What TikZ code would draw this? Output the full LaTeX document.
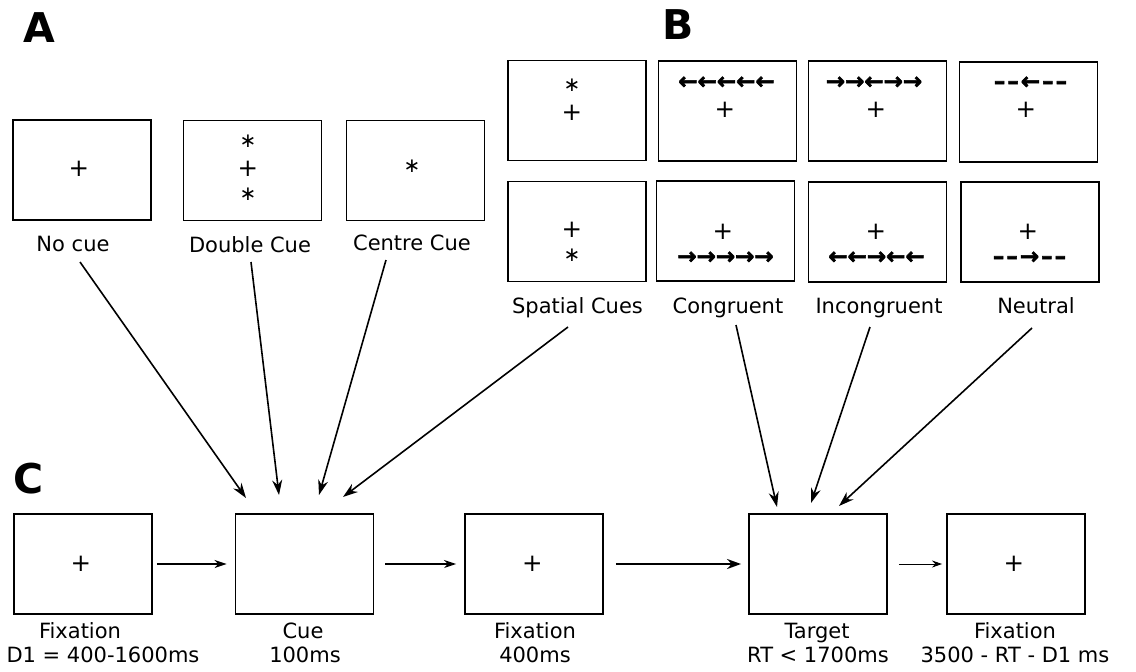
\documentclass[tikz,border=0pt]{standalone}
\usepackage{fontspec}
\setmainfont{DejaVu Sans}
\newfontfamily\flankfont[FakeBold=2.5]{DejaVu Sans Bold}
\usetikzlibrary{arrows.meta}
\begin{document}
\begin{tikzpicture}[x=1pt,y=-1pt,
 screen/.style={draw, line width=1.9pt, minimum width=138pt, minimum height=100pt, inner sep=0pt},
 lbl/.style={font=\fontsize{21}{25}\selectfont, inner sep=0pt, anchor=base},
 sym/.style={font=\fontsize{24.5}{25}\selectfont, inner sep=0pt, anchor=base},
 star/.style={font=\fontsize{20}{20}\selectfont, inner sep=0pt, anchor=base},
 flank/.style={font=\flankfont\fontsize{23}{23}\selectfont, inner sep=0pt, anchor=base},
 panel/.style={font=\bfseries\fontsize{41}{41}\selectfont, inner sep=0pt, anchor=base},
 link/.style={line width=1.6pt, -{Stealth[length=15pt,width=10pt]}},
 flow/.style={line width=1.4pt, -{Stealth[length=12pt,width=8pt]}},
]
\useasboundingbox (0,0) rectangle (1136,672);

% panel letters
\node[panel] (pA) at (39,42) {A};
\node[panel] (pB) at (678,39) {B};
\node[panel] (pC) at (28.5,493) {C};

% ---- panel A
\node[screen] (nocue) at (82,170) {};
\node[screen] (double) at (252.5,170.5) {};
\node[screen] (centre) at (415.5,170.5) {};
\node[sym] (nocue-p) at (79,176) {+};
\node[star] (double-a) at (248,147.6) {∗};
\node[sym] (double-p) at (248,176) {+};
\node[star] (double-b) at (248,200.6) {∗};
\node[star] (centre-a) at (412,172.6) {∗};
\node[lbl] (nocue-l) at (73,251) {No cue};
\node[lbl] (double-l) at (250,252) {Double Cue};
\node[lbl] (centre-l) at (412,250) {Centre Cue};

% ---- panel B
\node[screen] (sp1) at (577,110.5) {};
\node[screen] (sp2) at (577,231.5) {};
\node[screen] (co1) at (727.5,111) {};
\node[screen] (in1) at (877.5,111) {};
\node[screen] (ne1) at (1028.5,112) {};
\node[screen] (co2) at (725.5,231) {};
\node[screen] (in2) at (877.5,232) {};
\node[screen] (ne2) at (1030,232) {};

\node[star] (sp1-a) at (572,91.6) {∗};
\node[sym] (sp1-p) at (572,120) {+};
\node[sym] (sp2-p) at (572,237) {+};
\node[star] (sp2-a) at (572,261.6) {∗};

\node[flank] (co1-f) at (726.5,89) {←←←←←};
\node[sym] (co1-p) at (725,117) {+};
\node[flank] (in1-f) at (874,89) {→→←→→};
\node[sym] (in1-p) at (876,117) {+};
\node[flank] (ne1-f) at (1030.5,89) {–\kern2pt–\kern2pt←\kern2pt–\kern2pt–};
\node[sym] (ne1-p) at (1026,117) {+};

\node[sym] (co2-p) at (723,239) {+};
\node[flank] (co2-f) at (725.5,264) {→→→→→};
\node[sym] (in2-p) at (876,239) {+};
\node[flank] (in2-f) at (876.5,264) {←←→←←};
\node[sym] (ne2-p) at (1028,239) {+};
\node[flank] (ne2-f) at (1029.5,264) {–\kern2pt–\kern2pt→\kern2pt–\kern2pt–};

\node[lbl] (sp-l) at (577.5,313) {Spatial Cues};
\node[lbl] (co-l) at (728,313) {Congruent};
\node[lbl] (in-l) at (879,313) {Incongruent};
\node[lbl] (ne-l) at (1036,313) {Neutral};

% ---- panel C
\node[screen] (fix1) at (83,564) {};
\node[screen] (cue) at (304.5,564) {};
\node[screen] (fix2) at (534,564) {};
\node[screen] (target) at (818,564) {};
\node[screen] (fix3) at (1016,564) {};
\node[sym] (fix1-p) at (81,571) {+};
\node[sym] (fix2-p) at (532.5,571) {+};
\node[sym] (fix3-p) at (1014,571) {+};

\node[lbl] (fix1-l1) at (80,638) {Fixation};
\node[lbl] (fix1-l2) at (103,662) {D1 = 400-1600ms};
\node[lbl] (cue-l1) at (303,638) {Cue};
\node[lbl] (cue-l2) at (305,662) {100ms};
\node[lbl] (fix2-l1) at (535,638) {Fixation};
\node[lbl] (fix2-l2) at (535,662) {400ms};
\node[lbl] (target-l1) at (817,638) {Target};
\node[lbl] (target-l2) at (818,662) {RT < 1700ms};
\node[lbl] (fix3-l1) at (1015,638) {Fixation};
\node[lbl] (fix3-l2) at (1015,662) {3500 - RT - D1 ms};

% flow arrows
\draw[flow, shorten <=4pt, shorten >=8pt] (fix1) -- (cue);
\draw[flow, shorten <=11pt, shorten >=8pt] (cue) -- (fix2);
\draw[flow, line width=2.4pt, -{Stealth[length=14pt,width=10pt]}, shorten <=12pt, shorten >=7pt] (fix2) -- (target);
\draw[flow, line width=0.9pt, -{Stealth[length=10pt,width=7pt]}, shorten <=11pt, shorten >=4pt] (target) -- (fix3);

% converging arrows
\coordinate (nc-s) at (80,262);   \coordinate (nc-e) at (246,498);
\coordinate (dc-s) at (251,262);  \coordinate (dc-e) at (279,495);
\coordinate (cc-s) at (386,260);  \coordinate (cc-e) at (319,495);
\coordinate (sc-s) at (568,327);  \coordinate (sc-e) at (343,497);
\coordinate (co-s) at (736,325);  \coordinate (co-e) at (777,507);
\coordinate (in-s) at (870,327);  \coordinate (in-e) at (811,503);
\coordinate (ne-s) at (1032,328); \coordinate (ne-e) at (839,506);
\draw[link] (nc-s) -- (nc-e);
\draw[link] (dc-s) -- (dc-e);
\draw[link] (cc-s) -- (cc-e);
\draw[link] (sc-s) -- (sc-e);
\draw[link] (co-s) -- (co-e);
\draw[link] (in-s) -- (in-e);
\draw[link] (ne-s) -- (ne-e);
\end{tikzpicture}
\end{document}
